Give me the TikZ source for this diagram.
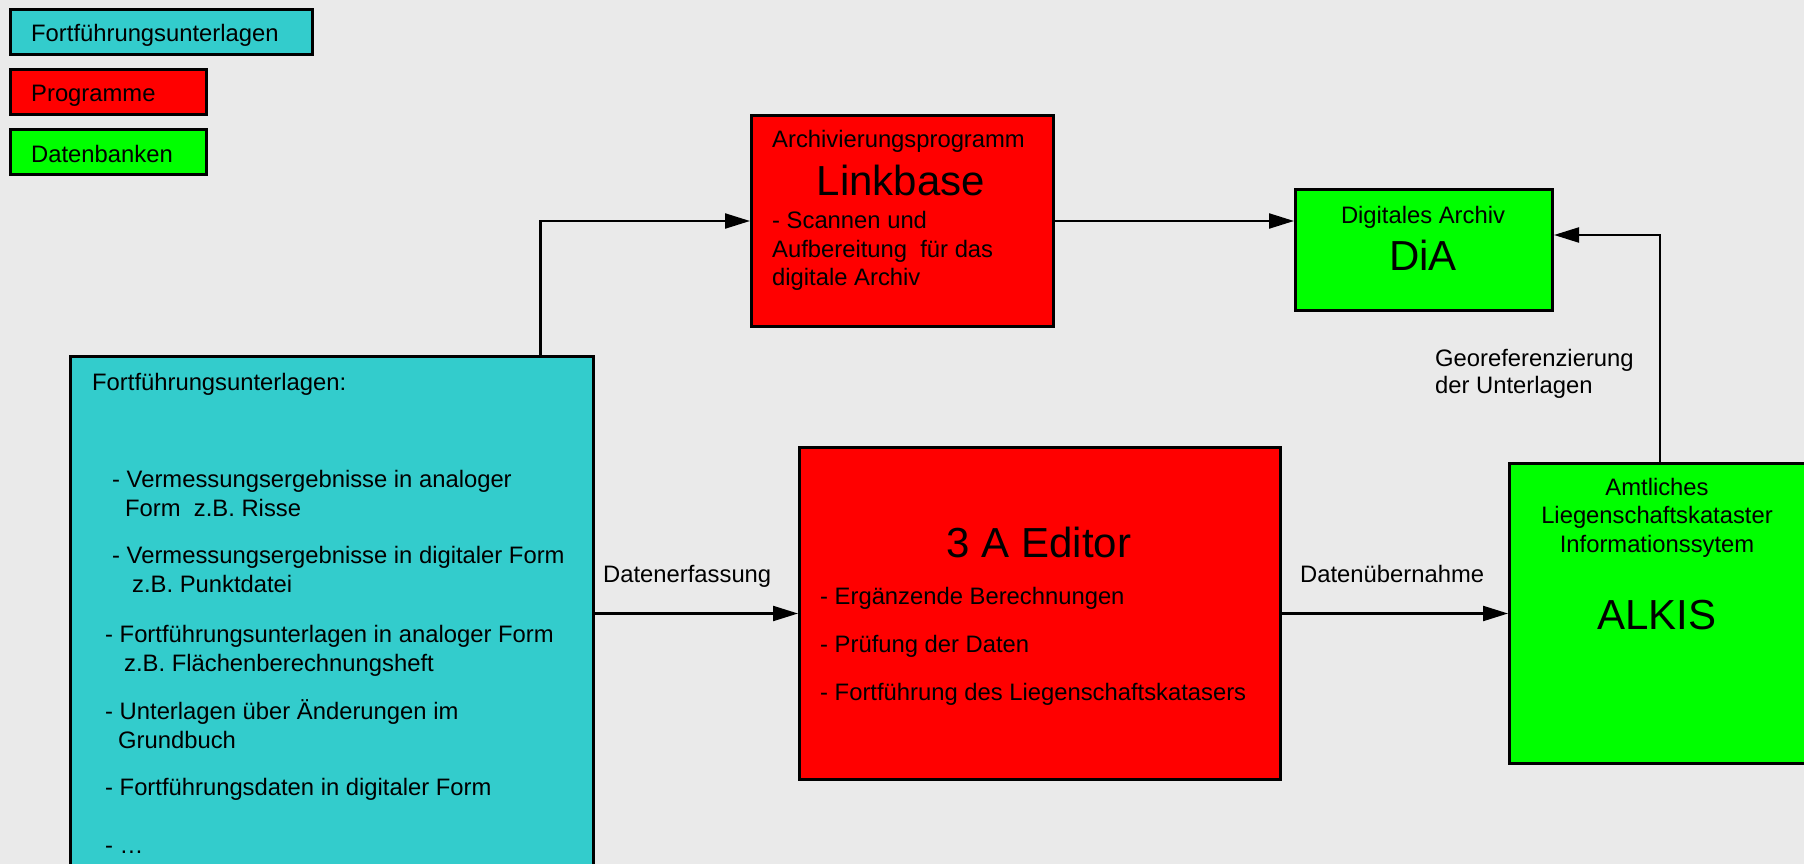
\documentclass[tikz,border=0pt]{standalone}
\usepackage{fontspec}
\setmainfont{Liberation Sans}
\usetikzlibrary{arrows.meta}
\definecolor{bg}{RGB}{234,234,234}
\definecolor{cyanbox}{RGB}{51,204,204}
\definecolor{redbox}{RGB}{255,0,0}
\definecolor{greenbox}{RGB}{0,255,0}
\frenchspacing
\begin{document}
\begin{tikzpicture}[x=1pt,y=-1pt,
  box/.style={draw=black, line width=3pt, anchor=north west, inner sep=0pt},
  txt/.style={anchor=base west, inner sep=0pt, font=\fontsize{23.8pt}{28.5pt}\selectfont},
  ctxt/.style={anchor=base, inner sep=0pt, font=\fontsize{23.8pt}{28.5pt}\selectfont},
  bigtxt/.style={anchor=base, inner sep=0pt, font=\fontsize{42pt}{50pt}\selectfont},
  arr/.style={line width=2.2pt, -{Triangle[length=25pt,width=15pt]}}]
\useasboundingbox (0,0) rectangle (1804,864);
\clip (0,0) rectangle (1804,864);
\fill[bg] (0,0) rectangle (1804,864);

% legend
\node[box, fill=cyanbox, minimum width=302pt, minimum height=45pt] (lg1) at (9,8) {};
\node[box, fill=redbox, minimum width=196pt, minimum height=45pt] (lg2) at (9,68) {};
\node[box, fill=greenbox, minimum width=196pt, minimum height=45pt] (lg3) at (9,128) {};
\node[txt] (lg1t) at (31,42) {Fortführungsunterlagen};
\node[txt] (lg2t) at (31,102) {Programme};
\node[txt] (lg3t) at (31,163) {Datenbanken};

% main boxes
\node[box, fill=cyanbox, minimum width=523pt, minimum height=526pt] (bigbox) at (69,355) {};
\node[box, fill=redbox, minimum width=302pt, minimum height=211pt] (linkbase) at (750,114) {};
\node[box, fill=greenbox, minimum width=257pt, minimum height=121pt] (dia) at (1294,188) {};
\node[box, fill=redbox, minimum width=481pt, minimum height=332pt] (editor) at (798,446) {};
\node[box, fill=greenbox, minimum width=301pt, minimum height=300pt] (alkis) at (1508,462) {};

% big box text
\node[txt] (b0) at (92,390) {Fortführungsunterlagen:};
\node[txt] (b1) at (112,487) {- Vermessungsergebnisse in analoger};
\node[txt] (b1b) at (125,516) {Form\ \ z.B. Risse};
\node[txt] (b2) at (112,563) {- Vermessungsergebnisse in digitaler Form};
\node[txt] (b2b) at (132,592) {z.B. Punktdatei};
\node[txt] (b3) at (105,642) {- Fortführungsunterlagen in analoger Form};
\node[txt] (b3b) at (124,671) {z.B. Flächenberechnungsheft};
\node[txt] (b4) at (105,719) {- Unterlagen über Änderungen im};
\node[txt] (b4b) at (118,748) {Grundbuch};
\node[txt] (b5) at (105,795) {- Fortführungsdaten in digitaler Form};
\node[txt] (b6) at (105,853) {- …};

% linkbase text
\node[txt] (l0) at (772,148) {Archivierungsprogramm};
\node[bigtxt] (l1) at (901,195) {Linkbase};
\node[txt] (l2) at (772,228) {- Scannen und};
\node[txt] (l3) at (772,257) {Aufbereitung\ \ für das};
\node[txt] (l4) at (772,285) {digitale Archiv};

% DiA text
\node[ctxt] (d0) at (1423,223) {Digitales Archiv};
\node[bigtxt] (d1) at (1423,270) {DiA};

% editor text
\node[bigtxt] (e0) at (1039,557) {3 A Editor};
\node[txt] (e1) at (820,604) {- Ergänzende Berechnungen};
\node[txt] (e2) at (820,652) {- Prüfung der Daten};
\node[txt] (e3) at (820,700) {- Fortführung des Liegenschaftskatasers};

% ALKIS text
\node[ctxt] (a0) at (1657,495) {Amtliches};
\node[ctxt] (a1) at (1657,523) {Liegenschaftskataster};
\node[ctxt] (a2) at (1657,552) {Informationssytem};
\node[bigtxt] (a3) at (1657,629) {ALKIS};

% connector labels
\node[txt] (g0) at (1435,366) {Georeferenzierung};
\node[txt] (g1) at (1435,393) {der Unterlagen};
\node[txt] (c1) at (603,582) {Datenerfassung};
\node[txt] (c2) at (1300,582) {Datenübernahme};

% connectors
\draw[arr] ([xshift=208.5pt]bigbox.north) |- (linkbase.west);
\draw[arr] (linkbase.east) -- (linkbase.east -| dia.west);
\draw[arr] (alkis.north) |- ([yshift=15pt]dia.east);
\draw[arr] (editor.west -| bigbox.east) -- (editor.west);
\draw[arr] (editor.east) -- (alkis.west);
\end{tikzpicture}
\end{document}
